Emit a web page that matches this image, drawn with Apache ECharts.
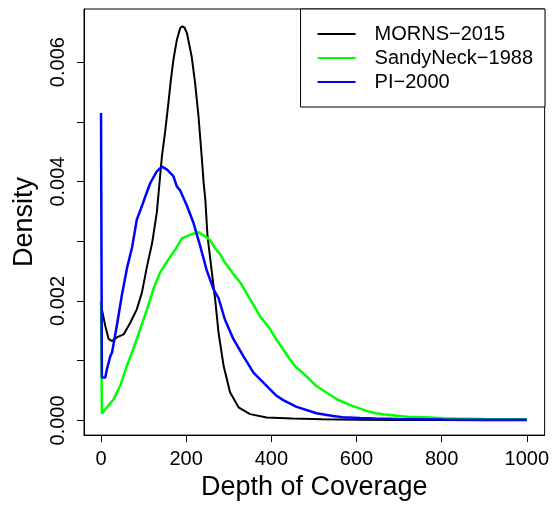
<!DOCTYPE html>
<html>
<head>
<meta charset="utf-8">
<script src="https://cdn.jsdelivr.net/npm/echarts@6/dist/echarts.min.js"></script>
<style>
html,body{margin:0;padding:0;background:#fff;}
#chart{width:552px;height:506px;}
</style>
</head>
<body>
<div id="chart"></div>
<script>
// ---- data ----
const seriesNames = ['MORNS\u22122015', 'SandyNeck\u22121988', 'PI\u22122000'];

const depthMorns = [0,2,10,18,26,37,53,69,84,96,108,120,131,143,150,158,164,170,178,186,191,196,202,213,221,229,237,241,245,250,260,268,276,288,303,323,350,389,450,520,600,700,800,900,1000];
const densityMorns = [0.00195,0.00186,0.00158,0.00136,0.00133,0.00139,0.00144,0.00164,0.00186,0.00214,0.00258,0.00297,0.00348,0.00442,0.00480,0.00530,0.00570,0.00604,0.00637,0.00657,0.00660,0.00658,0.00648,0.00609,0.00565,0.00509,0.00437,0.00398,0.00370,0.00310,0.00250,0.00203,0.00147,0.00091,0.00047,0.00022,0.000105,0.00005,0.00003,0.00002,0.000012,0.000008,0.000005,0.000004,0.000003];

const depthSandy = [0,2,14,30,45,61,76,92,108,123,139,155,176,190,213,229,245,256,268,280,291,303,311,327,350,373,397,411,420,444,458,467,491,505,522,555,584,604,624,645,663,700,720,772,802,835,900,1000];
const densitySandy = [0.00200,0.00011,0.00022,0.00036,0.00058,0.00092,0.00120,0.00153,0.00186,0.00220,0.00248,0.00266,0.00288,0.00305,0.00312,0.00315,0.00308,0.00302,0.00288,0.00278,0.00264,0.00253,0.00245,0.00231,0.00203,0.00175,0.00153,0.00136,0.00127,0.00102,0.00089,0.00084,0.00068,0.00058,0.00050,0.00035,0.00026,0.00021,0.00016,0.00012,0.000105,0.000075,0.000062,0.00005,0.000035,0.00003,0.000025,0.00002];

const depthPI = [0,2,6,10,14,22,26,37,49,61,73,84,96,104,116,131,143,155,170,178,186,202,217,233,248,264,276,291,311,334,358,389,411,428,458,506,545,567,608,645,700,800,900,1000];
const densityPI = [0.00515,0.00072,0.00075,0.00072,0.00086,0.00108,0.00114,0.00158,0.00210,0.00255,0.00290,0.00336,0.00359,0.00375,0.00398,0.00417,0.00425,0.00420,0.00409,0.00392,0.00385,0.00359,0.00331,0.00292,0.00252,0.00220,0.00205,0.00169,0.00136,0.00108,0.00080,0.00058,0.00042,0.00034,0.00023,0.00012,0.000075,0.000055,0.00004,0.00003,0.000022,0.000015,0.000012,0.00001];

const xTicks = [0,200,400,600,800,1000];
const yTicks = [0,0.001,0.002,0.003,0.004,0.005,0.006];
const yTickLabels = [0,0.002,0.004,0.006];

// ---- chart ----
function pairs(xs, ys){ return xs.map((x,i)=>[x, ys[i]]); }
const FONT = "'Liberation Sans', Arial, Helvetica, sans-serif";
const chart = echarts.init(document.getElementById('chart'), null, {renderer:'canvas'});
chart.setOption({
  animation:false,
  backgroundColor:'#fff',
  textStyle:{fontFamily:FONT},
  grid:{left:84,right:7,top:9,bottom:70,show:true,borderColor:'#000',borderWidth:1,backgroundColor:'transparent'},
  legend:{
    data:seriesNames,
    orient:'vertical',
    right:7, top:9,
    icon:'rect', itemWidth:38, itemHeight:2, itemGap:0,
    padding:[13,12,13,17],
    borderColor:'#000', borderWidth:1, backgroundColor:'#fff',
    textStyle:{fontSize:20,color:'#000',lineHeight:24,fontFamily:FONT,padding:[0,0,0,14]}
  },
  xAxis:{
    type:'value', min:-40, max:1042,
    axisLine:{show:true,onZero:false,lineStyle:{color:'#000',width:1}},
    splitLine:{show:false},
    axisTick:{show:true,length:7,lineStyle:{color:'#000'},customValues:xTicks},
    axisLabel:{customValues:xTicks,fontSize:20,color:'#000',margin:14,fontFamily:FONT,
      formatter:v=>String(Math.round(v))},
    name:'Depth of Coverage', nameLocation:'middle', nameGap:38,
    nameTextStyle:{fontSize:27,color:'#000',fontFamily:FONT}
  },
  yAxis:{
    type:'value', min:-0.000246, max:0.00689,
    axisLine:{show:true,onZero:false,lineStyle:{color:'#000',width:1}},
    splitLine:{show:false},
    axisTick:{show:true,length:7,lineStyle:{color:'#000'},customValues:yTicks},
    axisLabel:{customValues:yTickLabels,fontSize:20,color:'#000',margin:16,rotate:90,fontFamily:FONT,
      formatter:v=>Number(v).toFixed(3)},
    name:'Density', nameLocation:'middle', nameGap:46,
    nameTextStyle:{fontSize:27,color:'#000',fontFamily:FONT}
  },
  series:[
    {name:seriesNames[0],type:'line',data:pairs(depthMorns,densityMorns),symbol:'none',color:'#000',lineStyle:{color:'#000',width:2}},
    {name:seriesNames[1],type:'line',data:pairs(depthSandy,densitySandy),symbol:'none',color:'#00ff00',lineStyle:{color:'#00ff00',width:2.5}},
    {name:seriesNames[2],type:'line',data:pairs(depthPI,densityPI),symbol:'none',color:'#0000ff',lineStyle:{color:'#0000ff',width:2.5}}
  ]
});
</script>
</body>
</html>
